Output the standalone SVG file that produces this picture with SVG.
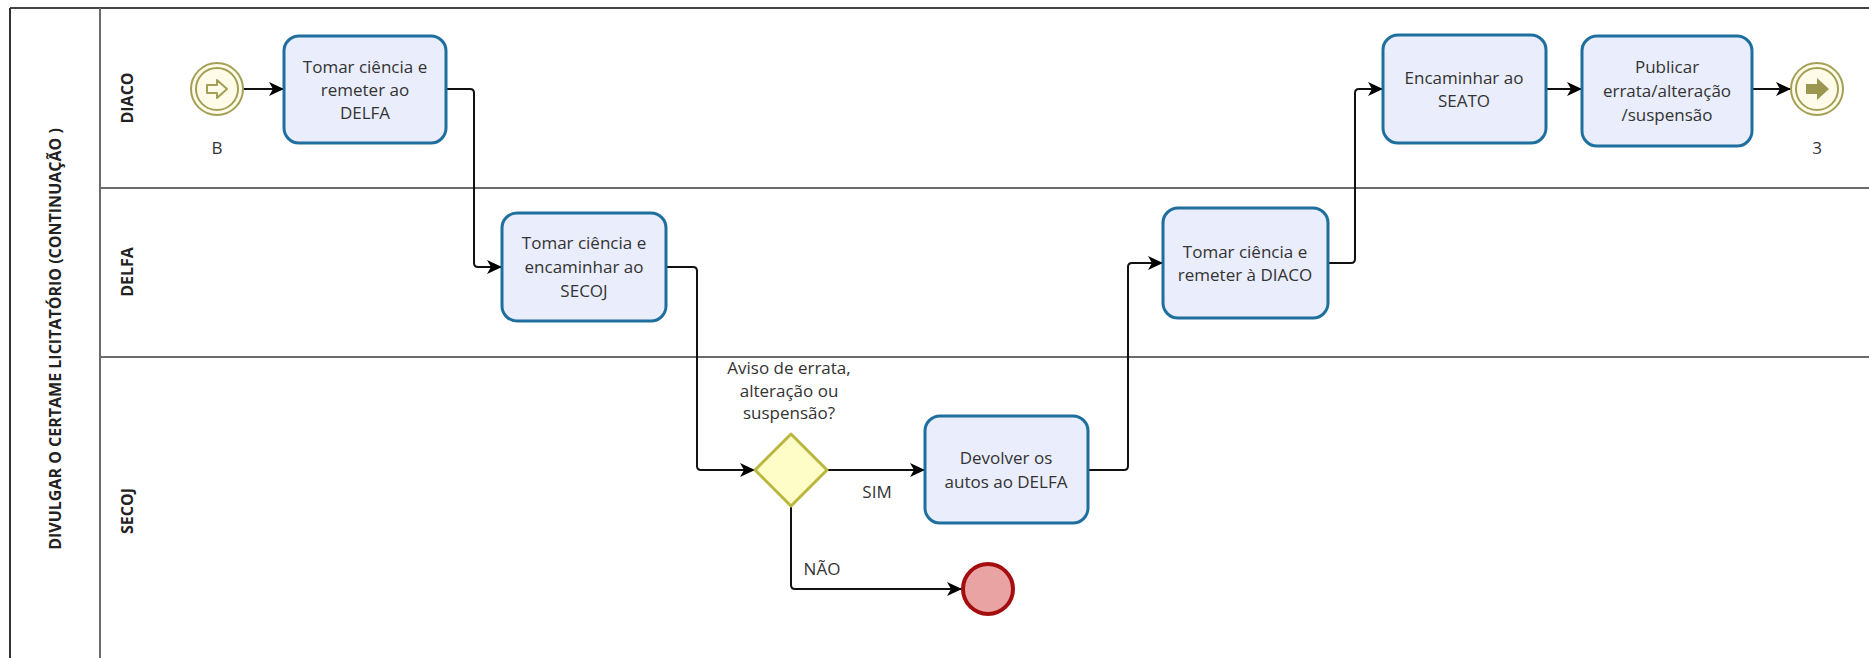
<svg xmlns="http://www.w3.org/2000/svg" width="1869" height="658" viewBox="0 0 1869 658">
<style>
text{font-family:"Open Sans","Noto Sans","DejaVu Sans",sans-serif;fill:#333;}
.t{font-size:17px;text-anchor:middle;}
.lane{font-size:16px;font-weight:bold;text-anchor:middle;fill:#222;}
.task{fill:#e9edfc;stroke:#1f6f9e;stroke-width:3;}
.flow{fill:none;stroke:#111;stroke-width:2;stroke-linejoin:round;}
.sep{stroke:#6a6a6a;stroke-width:2;fill:none;}
.ev{fill:#fefbe9;stroke:#a3a055;stroke-width:2;}
</style>
<defs>
<marker id="arr" markerUnits="userSpaceOnUse" markerWidth="16" markerHeight="16" refX="15" refY="8" orient="auto">
<path d="M0,1 L15,8 L0,15 L4,8 z" fill="#000"/>
</marker>
</defs>
<rect width="1869" height="658" fill="#fff"/>
<g id="pool">
<line x1="10" y1="8" x2="1869" y2="8" stroke="#444" stroke-width="2"/>
<line x1="10" y1="8" x2="10" y2="658" stroke="#333" stroke-width="2"/>
<line x1="100" y1="8" x2="100" y2="658" class="sep"/>
<line x1="100" y1="188" x2="1869" y2="188" class="sep"/>
<line x1="100" y1="357" x2="1869" y2="357" class="sep"/>
<text class="lane" transform="translate(61,339) rotate(-90)">DIVULGAR O CERTAME LICITATÓRIO (CONTINUAÇÃO )</text>
<text class="lane" transform="translate(133,98) rotate(-90)">DIACO</text>
<text class="lane" transform="translate(133,272) rotate(-90)">DELFA</text>
<text class="lane" transform="translate(133,511) rotate(-90)">SECOJ</text>
</g>
<g id="connectors">
<path class="flow" d="M243,89 H284" marker-end="url(#arr)"/>
<path class="flow" d="M446,89 H470 Q474,89 474,93 V263 Q474,267 478,267 H502" marker-end="url(#arr)"/>
<path class="flow" d="M666,267 H693 Q697,267 697,271 V466 Q697,470 701,470 H755" marker-end="url(#arr)"/>
<path class="flow" d="M827,470 H925" marker-end="url(#arr)"/>
<path class="flow" d="M791,506 V585 Q791,589 795,589 H962" marker-end="url(#arr)"/>
<path class="flow" d="M1088,470 H1124 Q1128,470 1128,466 V267 Q1128,263 1132,263 H1163" marker-end="url(#arr)"/>
<path class="flow" d="M1328,263 H1351 Q1355,263 1355,259 V93 Q1355,89 1359,89 H1383" marker-end="url(#arr)"/>
<path class="flow" d="M1546,89 H1582" marker-end="url(#arr)"/>
<path class="flow" d="M1752,89 H1791" marker-end="url(#arr)"/>
<text class="t" x="877" y="498">SIM</text>
<text class="t" x="822" y="575">NÃO</text>
</g>
<g id="start">
<circle cx="217" cy="89" r="26" class="ev"/>
<circle cx="217" cy="89" r="21" class="ev"/>
<path d="M207,85 H217 V80 L227,89 L217,98 V93 H207 Z" fill="#fefbe9" stroke="#a3a055" stroke-width="2" stroke-linejoin="round"/>
<text class="t" x="217" y="154">B</text>
</g>
<g id="task1">
<rect x="284" y="36" width="162" height="107" rx="15" class="task"/>
<text class="t" x="365" y="73">Tomar ciência e</text>
<text class="t" x="365" y="96">remeter ao</text>
<text class="t" x="365" y="119">DELFA</text>
</g>
<g id="task2">
<rect x="502" y="213" width="164" height="108" rx="15" class="task"/>
<text class="t" x="584" y="249">Tomar ciência e</text>
<text class="t" x="584" y="273">encaminhar ao</text>
<text class="t" x="584" y="297">SECOJ</text>
</g>
<g id="gateway">
<path d="M791,434 L827,470 L791,506 L755,470 Z" fill="#fefdc8" stroke="#b9b63e" stroke-width="3" stroke-linejoin="round"/>
<text class="t" x="789" y="374">Aviso de errata,</text>
<text class="t" x="789" y="397">alteração ou</text>
<text class="t" x="789" y="419">suspensão?</text>
</g>
<g id="task3">
<rect x="925" y="416" width="163" height="107" rx="15" class="task"/>
<text class="t" x="1006" y="464">Devolver os</text>
<text class="t" x="1006" y="488">autos ao DELFA</text>
</g>
<g id="end-red">
<circle cx="988" cy="589" r="25" fill="#e9a3a3" stroke="#a40e0e" stroke-width="4"/>
</g>
<g id="task4">
<rect x="1163" y="208" width="165" height="110" rx="15" class="task"/>
<text class="t" x="1245" y="258">Tomar ciência e</text>
<text class="t" x="1245" y="281">remeter à DIACO</text>
</g>
<g id="task5">
<rect x="1383" y="35" width="163" height="108" rx="15" class="task"/>
<text class="t" x="1464" y="84">Encaminhar ao</text>
<text class="t" x="1464" y="107">SEATO</text>
</g>
<g id="task6">
<rect x="1582" y="36" width="170" height="110" rx="15" class="task"/>
<text class="t" x="1667" y="73">Publicar</text>
<text class="t" x="1667" y="97">errata/alteração</text>
<text class="t" x="1667" y="121">/suspensão</text>
</g>
<g id="end">
<circle cx="1817" cy="89" r="26" class="ev"/>
<circle cx="1817" cy="89" r="21" class="ev"/>
<path d="M1806,84 H1817 V78 L1829,89 L1817,100 V94 H1806 Z" fill="#9b9650"/>
<text class="t" x="1817" y="154">3</text>
</g>
</svg>
